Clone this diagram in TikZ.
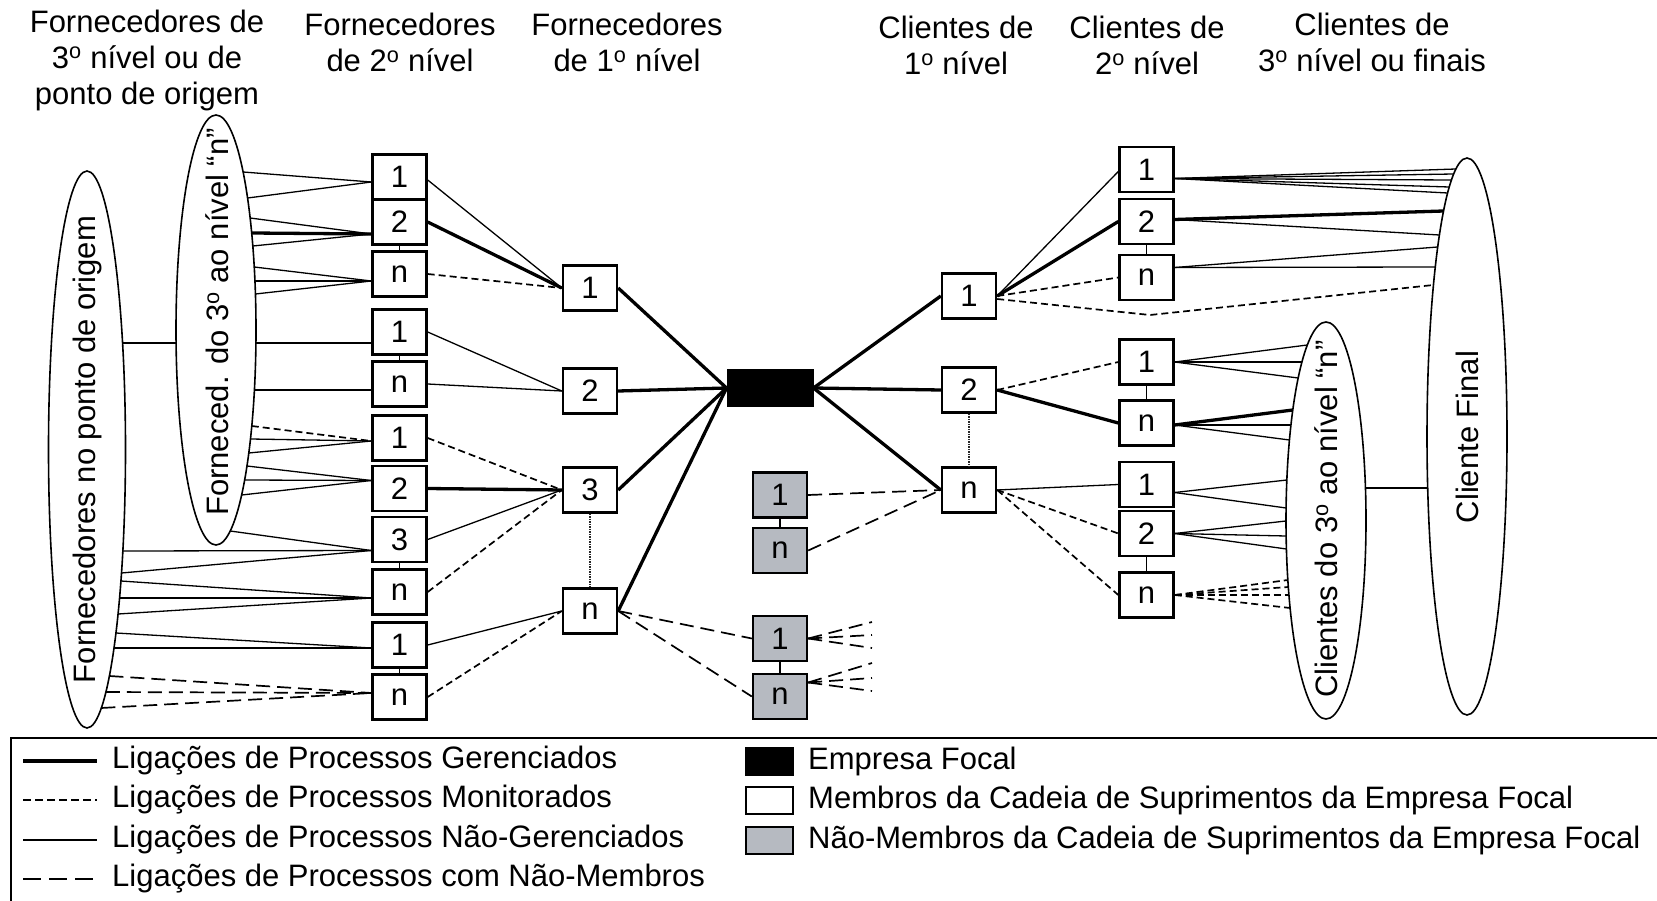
\documentclass[tikz,border=0pt]{standalone}
\usepackage{fontspec}
\setmainfont{Liberation Sans}
\usetikzlibrary{calc,shapes.geometric}
\definecolor{nmgray}{RGB}{182,186,193}
\newcommand\fs{\fontsize{31}{36}\selectfont}
\newcommand\ord{\textsuperscript{o}}
% point on an ellipse border: node, signed half width, half height, vertical offset
\newcommand\ER[4]{($(#1.center)+({#2*sqrt(1-((#4)/(#3))^2)},{#4})$)}
\newcommand\Ea[1]{\ER{E1}{38.5}{278.5}{#1-449.5}}
\newcommand\Eb[1]{\ER{E2}{40}{215}{#1-330}}
\newcommand\Ebl[1]{\ER{E2}{-40}{215}{#1-330}}
\newcommand\Ec[1]{\ER{E3}{-40}{198.5}{#1-520.5}}
\newcommand\Ecr[1]{\ER{E3}{40}{198.5}{#1-520.5}}
\newcommand\Ed[1]{\ER{E4}{-40}{278.5}{#1-436.5}}
\tikzset{
  bx/.style={draw, line width=2.4pt, minimum width=54pt, minimum height=45pt, inner sep=0pt, fill=white, font=\fs},
  gbx/.style={bx, fill=nmgray},
  ell/.style={draw, ellipse, line width=1.6pt, inner sep=0pt},
  man/.style={line width=3.3pt},
  mon/.style={line width=1.7pt, dash pattern=on 7pt off 4pt},
  unm/.style={line width=1.3pt},
  nmb/.style={line width=1.7pt, dash pattern=on 14pt off 7pt},
  tie/.style={line width=1.6pt},
  dotc/.style={line width=2pt, dash pattern=on 1.5pt off 1pt, draw=black!85},
  lbl/.style={font=\fs, inner sep=0pt, align=center},
}
\begin{document}
\begin{tikzpicture}[x=1pt,y=-1pt]
\useasboundingbox (0,0) rectangle (1657,901);

% headers
\node[lbl] (h1) at (147,60) {Fornecedores de\\3\ord{} nível ou de\\ponto de origem};
\node[lbl] (h2) at (400,42) {Fornecedores\\de 2\ord{} nível};
\node[lbl] (h3) at (627,42) {Fornecedores\\de 1\ord{} nível};
\node[lbl] (h4) at (956,45) {Clientes de\\1\ord{} nível};
\node[lbl] (h5) at (1147,45) {Clientes de\\2\ord{} nível};
\node[lbl] (h6) at (1372,42) {Clientes de\\3\ord{} nível ou finais};

% ellipses
\node[ell, minimum width=77pt, minimum height=557pt] (E1) at (87,449.5) {};
\node[ell, minimum width=80pt, minimum height=430pt] (E2) at (216,330) {};
\node[ell, minimum width=80pt, minimum height=397pt] (E3) at (1326,520.5) {};
\node[ell, minimum width=80pt, minimum height=557pt] (E4) at (1467,436.5) {};
\node[lbl, rotate=90] (T1) at (87,449.5) {Fornecedores no ponto de origem};
\node[lbl, rotate=90] (T2) at (217,322) {Forneced. do 3\ord{} ao nível “n”};
\node[lbl, rotate=90] (T3) at (1326,519) {Clientes do 3\ord{} ao nível “n”};
\node[lbl, rotate=90] (T4) at (1467,437) {Cliente Final};

% second-tier suppliers
\node[bx] (A1) at (399.5,177) {1};
\node[bx] (A2) at (399.5,222) {2};
\node[bx] (An) at (399.5,274) {n};
\node[bx] (B1) at (399.5,332) {1};
\node[bx] (Bn) at (399.5,384) {n};
\node[bx] (C1) at (399.5,438) {1};
\node[bx] (C2) at (399.5,488.5) {2};
\node[bx] (C3) at (399.5,539.5) {3};
\node[bx] (Cn) at (399.5,592) {n};
\node[bx] (D1) at (399.5,645) {1};
\node[bx] (Dn) at (399.5,697) {n};

% first-tier suppliers
\node[bx] (S1) at (590,288) {1};
\node[bx] (S2) at (590,391) {2};
\node[bx] (S3) at (590,490) {3};
\node[bx] (Sn) at (590,611) {n};

% focal company
\node[draw, fill=black, line width=1pt, minimum width=86pt, minimum height=37pt, inner sep=0pt] (F) at (770,388) {};

% non-members
\node[gbx] (G1) at (780,495) {1};
\node[gbx] (Gn) at (780,550.5) {n};
\node[gbx] (G3) at (780,638.5) {1};
\node[gbx] (G4) at (780,696.5) {n};

% first-tier clients
\node[bx] (K1) at (969,296) {1};
\node[bx] (K2) at (969,390) {2};
\node[bx] (Kn) at (969,490) {n};

% second-tier clients
\node[bx] (L1) at (1146.5,169.5) {1};
\node[bx] (L2) at (1146.5,221.5) {2};
\node[bx] (Ln) at (1146.5,277.5) {n};
\node[bx] (M1) at (1146.5,362) {1};
\node[bx] (Mn) at (1146.5,423) {n};
\node[bx] (N1) at (1146.5,484.5) {1};
\node[bx] (N2) at (1146.5,533.5) {2};
\node[bx] (Nn) at (1146.5,595) {n};

% ties between stacked boxes
\draw[tie] (A2.south) -- (An.north);
\draw[tie] (B1.south) -- (Bn.north);
\draw[tie] (C3.south) -- (Cn.north);
\draw[tie] (D1.south) -- (Dn.north);
\draw[tie] (G1.south) -- (Gn.north);
\draw[tie] (G3.south) -- (G4.north);
\draw[tie] (L2.south) -- (Ln.north);
\draw[tie] (M1.south) -- (Mn.north);
\draw[tie] (N2.south) -- (Nn.north);
\draw[dotc] (S3.south) -- (Sn.north);
\draw[dotc] (K2.south) -- (Kn.north);

% ellipse E1 - E2
\draw[unm] \Ea{343} -- \Ebl{343};

% E2 / E1 to second-tier suppliers
\draw[unm] \Eb{172} -- ($(A1.west)+(0,5)$);
\draw[unm] \Eb{198} -- ($(A1.west)+(0,5)$);
\draw[unm] \Eb{218} -- ($(A2.west)+(0,12)$);
\draw[man] \Eb{233} -- ($(A2.west)+(0,12)$);
\draw[unm] \Eb{246} -- ($(A2.west)+(0,12)$);
\draw[unm] \Eb{267} -- ($(An.west)+(0,7)$);
\draw[unm] \Eb{281} -- ($(An.west)+(0,7)$);
\draw[unm] \Eb{294} -- ($(An.west)+(0,7)$);
\draw[unm] \Eb{343} -- ($(B1.west)+(0,11)$);
\draw[unm] \Eb{390} -- ($(Bn.west)+(0,6)$);
\draw[mon] \Eb{426} -- ($(C1.west)+(0,3)$);
\draw[unm] \Eb{439} -- ($(C1.west)+(0,3)$);
\draw[unm] \Eb{453} -- ($(C1.west)+(0,3)$);
\draw[unm] \Eb{466} -- ($(C2.west)+(0,-8)$);
\draw[unm] \Eb{480} -- ($(C2.west)+(0,-8)$);
\draw[unm] \Eb{495} -- ($(C2.west)+(0,-8)$);
\draw[unm] \Eb{531} -- ($(C3.west)+(0,11)$);
\draw[unm] \Ea{551} -- ($(C3.west)+(0,11)$);
\draw[unm] \Ea{573} -- ($(C3.west)+(0,11)$);
\draw[unm] \Ea{581} -- ($(Cn.west)+(0,6)$);
\draw[unm] \Ea{598} -- ($(Cn.west)+(0,6)$);
\draw[unm] \Ea{614} -- ($(Cn.west)+(0,6)$);
\draw[unm] \Ea{633} -- ($(D1.west)+(0,3)$);
\draw[unm] \Ea{648} -- ($(D1.west)+(0,3)$);
\draw[nmb] \Ea{676} -- ($(Dn.west)+(0,-4)$);
\draw[nmb] \Ea{692} -- ($(Dn.west)+(0,-4)$);
\draw[nmb] \Ea{708} -- ($(Dn.west)+(0,-4)$);

% second tier to first tier
\draw[unm] ($(A1.east)+(0,3)$) -- (S1.west);
\draw[man] (A2.east) -- (S1.west);
\draw[mon] (An.east) -- (S1.west);
\draw[unm] (B1.east) -- (S2.west);
\draw[unm] (Bn.east) -- (S2.west);
\draw[mon] (C1.east) -- (S3.west);
\draw[man] (C2.east) -- (S3.west);
\draw[unm] (C3.east) -- (S3.west);
\draw[mon] (Cn.east) -- (S3.west);
\draw[unm] (D1.east) -- (Sn.west);
\draw[mon] (Dn.east) -- (Sn.west);

% first tier to focal
\draw[man] (S1.east) -- (F.west);
\draw[man] (S2.east) -- (F.west);
\draw[man] (S3.east) -- (F.west);
\draw[man] (Sn.east) -- (F.west);

% non-members
\draw[nmb] (Sn.east) -- (G3.west);
\draw[nmb] (Sn.east) -- (G4.west);
\draw[nmb] (G1.east) -- (Kn.west);
\draw[nmb] (Gn.east) -- (Kn.west);
\coordinate (s1) at (872,622);
\coordinate (s2) at (872,635);
\coordinate (s3) at (872,648);
\coordinate (s4) at (872,663);
\coordinate (s5) at (872,678);
\coordinate (s6) at (872,691);
\draw[nmb] (G3.east) -- (s1);
\draw[nmb] (G3.east) -- (s2);
\draw[nmb] (G3.east) -- (s3);
\draw[nmb] ($(G4.east)+(0,-14)$) -- (s4);
\draw[nmb] ($(G4.east)+(0,-14)$) -- (s5);
\draw[nmb] ($(G4.east)+(0,-14)$) -- (s6);

% focal to first-tier clients
\draw[man] (F.east) -- (K1.west);
\draw[man] (F.east) -- (K2.west);
\draw[man] (F.east) -- (Kn.west);

% first tier clients to second tier clients
\draw[unm] (K1.east) -- ($(L1.west)+(0,2)$);
\draw[man] (K1.east) -- (L2.west);
\draw[mon] (K1.east) -- (Ln.west);
\coordinate (kb) at (1150,315);
\draw[mon] ($(K1.east)+(0,3)$) -- (kb) -- \Ed{285};
\draw[mon] (K2.east) -- (M1.west);
\draw[man] (K2.east) -- (Mn.west);
\draw[unm] (Kn.east) -- (N1.west);
\draw[mon] (Kn.east) -- (N2.west);
\draw[mon] (Kn.east) -- (Nn.west);

% second tier clients to final clients
\draw[unm] ($(L1.east)+(0,9)$) -- \Ed{169};
\draw[unm] ($(L1.east)+(0,9)$) -- \Ed{174};
\draw[unm] ($(L1.east)+(0,9)$) -- \Ed{180};
\draw[unm] ($(L1.east)+(0,9)$) -- \Ed{187};
\draw[unm] ($(L1.east)+(0,9)$) -- \Ed{193};
\draw[man] ($(L2.east)+(0,-2)$) -- \Ed{211};
\draw[unm] ($(L2.east)+(0,-2)$) -- \Ed{235};
\draw[unm] ($(Ln.east)+(0,-10)$) -- \Ed{247};
\draw[unm] ($(Ln.east)+(0,-10)$) -- \Ed{267};
\draw[unm] (M1.east) -- \Ec{345};
\draw[unm] (M1.east) -- \Ec{362};
\draw[unm] (M1.east) -- \Ec{378};
\draw[man] ($(Mn.east)+(0,2)$) -- \Ec{410};
\draw[unm] ($(Mn.east)+(0,2)$) -- \Ec{425};
\draw[unm] ($(Mn.east)+(0,2)$) -- \Ec{440};
\draw[unm] ($(N1.east)+(0,8)$) -- \Ec{480};
\draw[unm] ($(N1.east)+(0,8)$) -- \Ec{508};
\draw[unm] (N2.east) -- \Ec{521};
\draw[unm] (N2.east) -- \Ec{536};
\draw[unm] (N2.east) -- \Ec{549};
\draw[mon] (Nn.east) -- \Ec{580};
\draw[mon] (Nn.east) -- \Ec{587};
\draw[mon] (Nn.east) -- \Ec{595};
\draw[mon] (Nn.east) -- \Ec{608};
\draw[unm] \Ecr{488} -- \Ed{488};

% legend
\coordinate (fr1) at (1660,738);
\coordinate (fr2) at (11,738);
\coordinate (fr3) at (11,905);
\draw[line width=2pt] (fr1) -- (fr2) -- (fr3);
\coordinate (la1) at (23,761);  \coordinate (lb1) at (97,761);
\coordinate (la2) at (23,800);  \coordinate (lb2) at (97,800);
\coordinate (la3) at (23,840);  \coordinate (lb3) at (97,840);
\coordinate (la4) at (23,879);  \coordinate (lb4) at (97,879);
\draw[man] (la1) -- (lb1);
\draw[line width=1.8pt, dash pattern=on 8pt off 4pt] (la2) -- (lb2);
\draw[unm] (la3) -- (lb3);
\draw[line width=1.9pt, dash pattern=on 18pt off 8pt] (la4) -- (lb4);
\node[lbl, anchor=west] (lt1) at (112,761) {Ligações de Processos Gerenciados};
\node[lbl, anchor=west] (lt2) at (112,800) {Ligações de Processos Monitorados};
\node[lbl, anchor=west] (lt3) at (112,840) {Ligações de Processos Não-Gerenciados};
\node[lbl, anchor=west] (lt4) at (112,879) {Ligações de Processos com Não-Membros};
\node[draw, line width=2pt, fill=black, minimum width=47pt, minimum height=27pt, inner sep=0pt] (q1) at (769,761) {};
\node[draw, line width=2pt, fill=white, minimum width=47pt, minimum height=27pt, inner sep=0pt] (q2) at (769,800) {};
\node[draw, line width=2pt, fill=nmgray, minimum width=47pt, minimum height=27pt, inner sep=0pt] (q3) at (769,840) {};
\node[lbl, anchor=west] (rt1) at (808,761) {Empresa Focal};
\node[lbl, anchor=west] (rt2) at (808,800) {Membros da Cadeia de Suprimentos da Empresa Focal};
\node[lbl, anchor=west] (rt3) at (808,840) {Não-Membros da Cadeia de Suprimentos da Empresa Focal};
\end{tikzpicture}
\end{document}
